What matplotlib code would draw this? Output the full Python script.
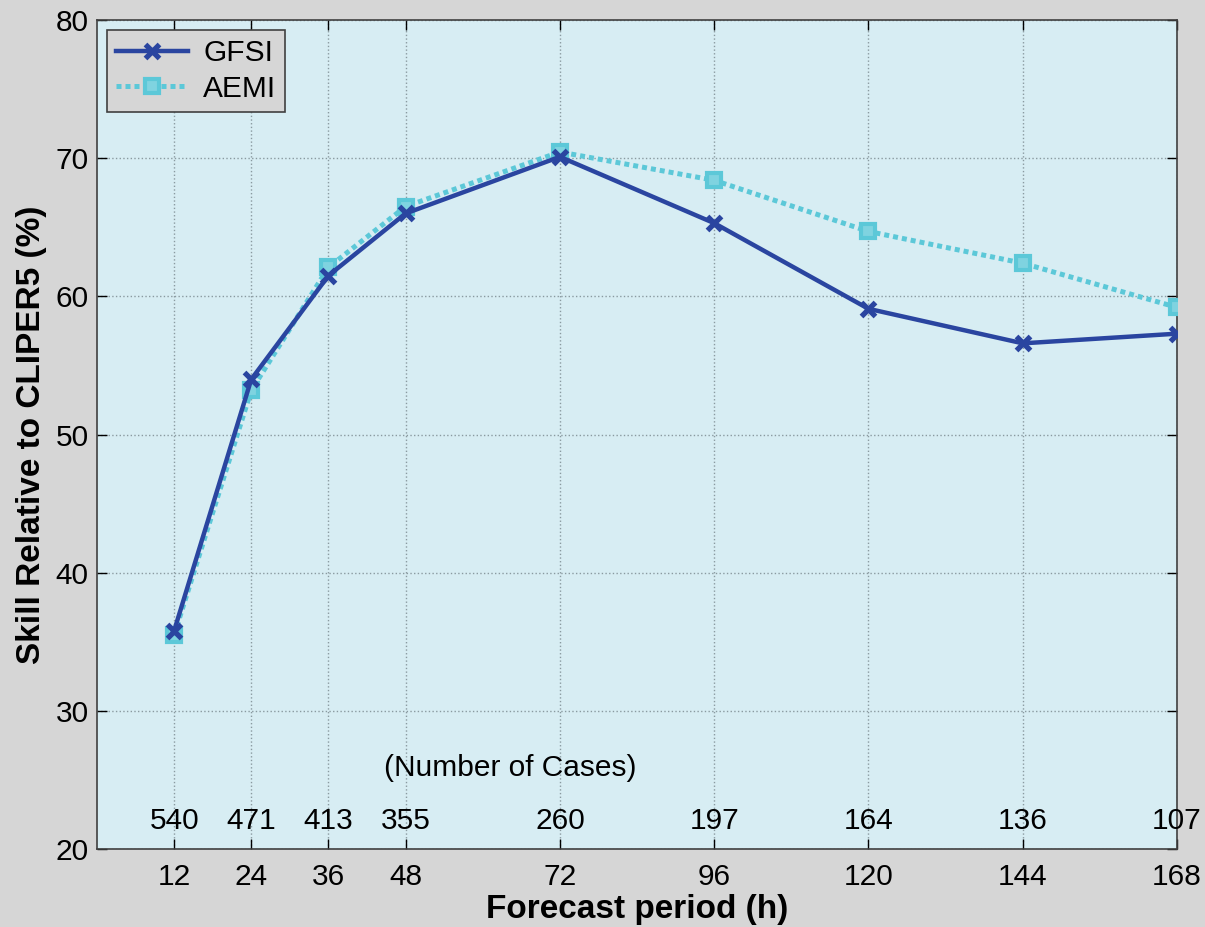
import numpy as np
import matplotlib.pyplot as plt

# Forecast periods (h) and number of verified cases
hours = [12, 24, 36, 48, 72, 96, 120, 144, 168]
n_cases = ["540", "471", "413", "355", "260", "197", "164", "136", "107"]

# Skill relative to CLIPER5 (%)
gfsi = [35.8, 54.0, 61.5, 66.0, 70.1, 65.3, 59.1, 56.6, 57.3]
aemi = [35.5, 53.2, 62.1, 66.5, 70.45, 68.4, 64.7, 62.4, 59.2]

plt.rcParams['font.family'] = ['Liberation Sans', 'DejaVu Sans']

fig = plt.figure(figsize=(12.05, 9.27), dpi=100, facecolor='#d6d6d6')
ax = fig.add_axes([0.0805, 0.0841, 0.8963, 0.8943])
ax.set_facecolor('#d7edf3')

ax.plot(hours, gfsi, color='#2a45a0', lw=3.2, marker='x', ms=10, mew=3.8,
        label='GFSI', zorder=4)
ax.plot(hours, aemi, color='#5cc8d8', lw=3.6, ls=(0, (1, 0.8)), marker='s', ms=10,
        mew=3, mfc='#7fd3e0', mec='#5cc8d8', label='AEMI', zorder=3)

ax.set_xlim(0, 168)
ax.set_ylim(20, 80)
ax.set_xticks(hours)
ax.set_yticks(np.arange(20, 81, 10))
ax.tick_params(axis='both', direction='in', labelsize=21.5, length=7, width=1,
               top=True, right=True, pad=6)
ax.tick_params(axis='x', pad=10)
ax.grid(True, ls=':', color='#8a9aa0', lw=1)
for s in ax.spines.values():
    s.set_color('#404040')
    s.set_linewidth(1.2)

for h, n in zip(hours, n_cases):
    ax.text(h, 21.0, n, ha='center', va='bottom', fontsize=21.5)
ax.text(64.3, 24.85, '(Number of Cases)', ha='center', va='bottom', fontsize=21.5)

ax.set_xlabel('Forecast period (h)', fontsize=24, fontweight='bold', labelpad=2)
ax.set_ylabel('Skill Relative to CLIPER5 (%)', fontsize=24, fontweight='bold', labelpad=6)

leg = ax.legend(loc='upper left', fontsize=21.5, handlelength=2.4, fancybox=False,
                framealpha=1, borderaxespad=0.35, handletextpad=0.5,
                borderpad=0.3, labelspacing=0.25)
leg.get_frame().set_facecolor('#d6d6d6')
leg.get_frame().set_edgecolor('#404040')
leg.get_frame().set_linewidth(1.2)

fig.savefig('out.png', dpi=100, facecolor=fig.get_facecolor())
